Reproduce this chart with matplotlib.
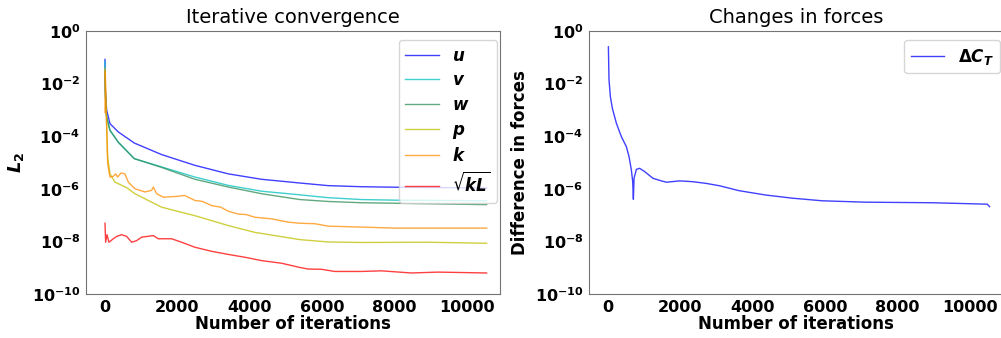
import numpy as np
import matplotlib
matplotlib.use('Agg')
import matplotlib.pyplot as plt
from matplotlib.ticker import FixedLocator, NullLocator, FuncFormatter

# residual history (iteration, L2 value)
u_it = [0, 10, 46, 138, 368, 810, 1565, 2486, 3407, 4328, 5387, 6169, 7090, 8000, 9000, 10550]
u_val = [8.3e-2, 6.0e-3, 9.8e-4, 3.0e-4, 1.45e-4, 5.5e-5, 2.0e-5, 7.8e-6, 3.7e-6, 2.3e-6,
         1.66e-6, 1.32e-6, 1.2e-6, 1.15e-6, 1.12e-6, 1.07e-6]

v_it = [0, 10, 46, 138, 368, 810, 1565, 2486, 3407, 4328, 5387, 6169, 7090, 8011, 10550]
v_val = [7.0e-2, 4.0e-3, 5.4e-4, 1.7e-4, 6.0e-5, 1.4e-5, 6.8e-6, 2.8e-6, 1.35e-6, 8.1e-7,
         5.9e-7, 4.6e-7, 3.9e-7, 3.7e-7, 3.5e-7]

w_it = [0, 10, 46, 138, 368, 810, 1565, 2486, 3407, 4328, 5387, 6169, 7090, 10550]
w_val = [3.0e-2, 3.5e-3, 5.2e-4, 1.65e-4, 5.8e-5, 1.4e-5, 6.5e-6, 2.3e-6, 1.17e-6, 6.5e-7,
         3.9e-7, 3.3e-7, 2.95e-7, 2.5e-7]

p_it = [0, 30, 74, 138, 276, 599, 829, 1565, 2486, 3407, 4144, 5387, 6169, 7090, 8932, 10550]
p_val = [3.8e-2, 1.0e-3, 1.6e-5, 3.7e-6, 1.8e-6, 1.1e-6, 6.5e-7, 2.0e-7, 9.5e-8, 4.0e-8,
         2.2e-8, 1.17e-8, 9.5e-9, 9.1e-9, 9.3e-9, 8.5e-9]

k_it = [0, 8, 74, 138, 230, 295, 350, 442, 552, 645, 829, 1105, 1289, 1335, 1427, 1611,
        2026, 2200, 2486, 2700, 2947, 3200, 3407, 3683, 3900, 4144, 4604, 5064, 5387, 5801,
        6169, 7090, 8011, 8932, 10550]
k_val = [8.0e-4, 3.0e-2, 8.9e-6, 2.8e-6, 3.0e-6, 3.7e-6, 2.8e-6, 4.0e-6, 3.7e-6, 1.8e-6,
         1.0e-6, 7.6e-7, 8.7e-7, 1.17e-6, 6.5e-7, 4.8e-7, 5.2e-7, 5.6e-7, 3.6e-7, 3.3e-7,
         2.3e-7, 2.0e-7, 1.4e-7, 1.1e-7, 1.05e-7, 8.3e-8, 7.2e-8, 5.4e-8, 4.9e-8, 4.7e-8,
         3.8e-8, 3.5e-8, 3.2e-8, 3.2e-8, 3.2e-8]

kl_it = [0, 18, 55, 110, 230, 322, 460, 599, 737, 875, 1013, 1335, 1473, 1842, 2118, 2486,
         2947, 3407, 3867, 4328, 4880, 5387, 5617, 5985, 6353, 7090, 7643, 8472, 9208, 10550]
kl_val = [4.9e-8, 9.3e-9, 1.8e-8, 9.3e-9, 1.26e-8, 1.55e-8, 1.8e-8, 1.55e-8, 9.3e-9, 1.07e-8,
          1.45e-8, 1.66e-8, 1.26e-8, 1.26e-8, 9.3e-9, 6.0e-9, 4.2e-9, 3.2e-9, 2.5e-9, 1.86e-9,
          1.48e-9, 1.02e-9, 8.9e-10, 8.7e-10, 7.2e-10, 7.2e-10, 7.6e-10, 6.3e-10, 6.8e-10, 6.3e-10]

# change in thrust coefficient
ct_it = [11, 28, 66, 121, 232, 370, 508, 582, 646, 683, 702, 720, 785, 876, 1015, 1245, 1475,
         1614, 1982, 2350, 2720, 3088, 3621, 4358, 5095, 5924, 7122, 8965, 10485, 10549]
ct_val = [0.25, 1.4e-2, 3.2e-3, 1.15e-3, 3.1e-4, 9.6e-5, 4.0e-5, 1.66e-5, 5.2e-6, 1.9e-6,
          4.0e-7, 2.5e-6, 5.5e-6, 6.0e-6, 4.5e-6, 2.5e-6, 2.0e-6, 1.78e-6, 2.0e-6, 1.86e-6,
          1.6e-6, 1.3e-6, 8.5e-7, 5.8e-7, 4.4e-7, 3.5e-7, 3.1e-7, 2.95e-7, 2.6e-7, 2.1e-7]

yticks = [1e0, 1e-2, 1e-4, 1e-6, 1e-8, 1e-10]
xticks = [0, 2000, 4000, 6000, 8000, 10000]

plt.rcParams['font.weight'] = 'bold'
plt.rcParams['axes.edgecolor'] = '0.45'


def logfmt(v, pos):
    e = int(round(np.log10(v)))
    return r'$\mathbf{10^{%d}}$' % e


def setup(ax):
    ax.set_yscale('log')
    ax.set_ylim(1e-10, 1e0)
    ax.set_xlim(-525, 10920)
    ax.yaxis.set_major_locator(FixedLocator(yticks))
    ax.yaxis.set_minor_locator(NullLocator())
    ax.yaxis.set_major_formatter(FuncFormatter(logfmt))
    ax.set_xticks(xticks)
    ax.tick_params(labelsize=11.5, length=0, pad=4)
    for lab in ax.get_xticklabels():
        lab.set_fontweight('bold')
    ax.set_xlabel('Number of iterations', fontsize=12, fontweight='bold', labelpad=0)


fig = plt.figure(figsize=(10.01, 3.38), dpi=100)
ax1 = fig.add_axes([86/1001, 44/338, 414/1001, 263/338])
ax2 = fig.add_axes([589/1001, 44/338, 414/1001, 263/338])

a = 0.75
ax1.plot(u_it, u_val, color='b', lw=1, alpha=a, label=r'$\boldsymbol{u}$')
ax1.plot(v_it, v_val, color='c', lw=1, alpha=a, label=r'$\boldsymbol{v}$')
ax1.plot(w_it, w_val, color='seagreen', lw=1, alpha=a, label=r'$\boldsymbol{w}$')
ax1.plot(p_it, p_val, color='y', lw=1, alpha=a, label=r'$\boldsymbol{p}$')
ax1.plot(k_it, k_val, color='darkorange', lw=1, alpha=a, label=r'$\boldsymbol{k}$')
ax1.plot(kl_it, kl_val, color='r', lw=1, alpha=a, label=r'$\sqrt{\boldsymbol{kL}}$')
setup(ax1)
ax1.set_title('Iterative convergence', fontsize=14, fontweight='normal')
ax1.set_ylabel(r'$\boldsymbol{L_2}$', fontsize=13)
ax1.legend(loc='upper right', bbox_to_anchor=(0.993, 0.966), borderaxespad=0,
           fontsize=12, labelspacing=0.4)

ax2.plot(ct_it, ct_val, color='b', lw=1, alpha=a, label=r'$\boldsymbol{\Delta C_T}$')
setup(ax2)
ax2.set_title('Changes in forces', fontsize=14, fontweight='normal')
ax2.set_ylabel('Difference in forces', fontsize=12, fontweight='bold')
ax2.legend(loc='upper right', bbox_to_anchor=(0.993, 0.966), borderaxespad=0, fontsize=12)

fig.savefig('out.png', dpi=100)
